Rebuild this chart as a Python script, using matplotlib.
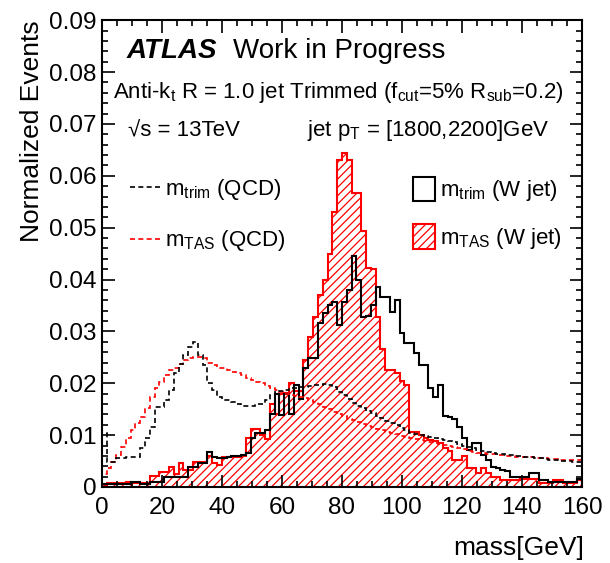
#!/usr/bin/env python
# coding: utf-8
"""
mass distributions for W jets and QCD jets, trimmed vs TAS
"""
import numpy as np
import matplotlib
matplotlib.use("Agg")
import matplotlib.pyplot as plt
from matplotlib.lines import Line2D
from matplotlib.patches import Patch

# 100 bins of 1.6 GeV between 0 and 160
mass_min = 0.0
mass_max = 160.0
n_bins = 100

# m_TAS, W jet (red hatched)
tas_w = [0.0004, 0.0008, 0.0008, 0.0008, 0.0008, 0.0009, 0.0008, 0.0008, 0.0008, 0.0008,
         0.0021, 0.0021, 0.0029, 0.0029, 0.0038, 0.0025, 0.0046, 0.0032, 0.0032, 0.0048,
         0.0048, 0.0048, 0.0060, 0.0046, 0.0042, 0.0058, 0.0058, 0.0058, 0.0058, 0.0060,
         0.0094, 0.0112, 0.0112, 0.0100, 0.0092, 0.0160, 0.0140, 0.0180, 0.0182, 0.0200,
         0.0185, 0.0185, 0.0244, 0.0290, 0.0327, 0.0370, 0.0400, 0.0450, 0.0530, 0.0630,
         0.0645, 0.0630, 0.0567, 0.0567, 0.0494, 0.0423, 0.0420, 0.0327, 0.0266, 0.0225,
         0.0225, 0.0220, 0.0205, 0.0196, 0.0106, 0.0106, 0.0100, 0.0095, 0.0090, 0.0088,
         0.0085, 0.0075, 0.0070, 0.0052, 0.0052, 0.0060, 0.0036, 0.0036, 0.0027, 0.0036,
         0.0027, 0.0019, 0.0019, 0.0013, 0.0013, 0.0013, 0.0013, 0.0016, 0.0016, 0.0016,
         0.0016, 0.0007, 0.0007, 0.0007, 0.0013, 0.0013, 0.0007, 0.0007, 0.0007, 0.0013]

# m_trim, W jet (black solid)
trim_w = [0.0005, 0.0005, 0.0005, 0.0005, 0.0005, 0.0005, 0.0010, 0.0010, 0.0006, 0.0006,
          0.0010, 0.0010, 0.0010, 0.0019, 0.0019, 0.0019, 0.0019, 0.0019, 0.0038, 0.0038,
          0.0046, 0.0046, 0.0067, 0.0058, 0.0056, 0.0056, 0.0058, 0.0060, 0.0060, 0.0062,
          0.0065, 0.0094, 0.0104, 0.0104, 0.0110, 0.0140, 0.0180, 0.0138, 0.0180, 0.0140,
          0.0196, 0.0170, 0.0229, 0.0248, 0.0248, 0.0317, 0.0335, 0.0350, 0.0356, 0.0312,
          0.0356, 0.0380, 0.0446, 0.0400, 0.0327, 0.0330, 0.0350, 0.0385, 0.0366, 0.0366,
          0.0337, 0.0360, 0.0296, 0.0277, 0.0277, 0.0258, 0.0235, 0.0235, 0.0190, 0.0174,
          0.0196, 0.0137, 0.0135, 0.0132, 0.0115, 0.0094, 0.0071, 0.0084, 0.0084, 0.0062,
          0.0052, 0.0039, 0.0036, 0.0033, 0.0030, 0.0019, 0.0019, 0.0019, 0.0019, 0.0027,
          0.0027, 0.0013, 0.0013, 0.0010, 0.0010, 0.0010, 0.0010, 0.0010, 0.0010, 0.0016]

# m_trim, QCD (black dashed)
trim_qcd = [0.0104, 0.0048, 0.0048, 0.0056, 0.0056, 0.0058, 0.0058, 0.0058, 0.0075, 0.0094,
            0.0116, 0.0154, 0.0154, 0.0167, 0.0187, 0.0220, 0.0238, 0.0254, 0.0270, 0.0280,
            0.0254, 0.0235, 0.0200, 0.0187, 0.0173, 0.0167, 0.0167, 0.0163, 0.0160, 0.0156,
            0.0156, 0.0156, 0.0160, 0.0160, 0.0167, 0.0177, 0.0183, 0.0186, 0.0188, 0.0190,
            0.0191, 0.0193, 0.0193, 0.0194, 0.0196, 0.0197, 0.0198, 0.0196, 0.0192, 0.0183,
            0.0178, 0.0170, 0.0162, 0.0157, 0.0152, 0.0147, 0.0142, 0.0137, 0.0133, 0.0128,
            0.0123, 0.0119, 0.0114, 0.0109, 0.0105, 0.0102, 0.0100, 0.0098, 0.0096, 0.0094,
            0.0092, 0.0090, 0.0088, 0.0086, 0.0083, 0.0080, 0.0077, 0.0075, 0.0072, 0.0070,
            0.0068, 0.0066, 0.0064, 0.0063, 0.0062, 0.0061, 0.0060, 0.0059, 0.0058, 0.0057,
            0.0056, 0.0055, 0.0054, 0.0053, 0.0052, 0.0051, 0.0050, 0.0050, 0.0049, 0.0048]

# m_TAS, QCD (red dashed)
tas_qcd = [0.0025, 0.0036, 0.0048, 0.0062, 0.0077, 0.0094, 0.0110, 0.0123, 0.0135, 0.0152,
           0.0173, 0.0190, 0.0202, 0.0215, 0.0225, 0.0230, 0.0238, 0.0244, 0.0248, 0.0250,
           0.0250, 0.0248, 0.0240, 0.0236, 0.0230, 0.0230, 0.0226, 0.0222, 0.0220, 0.0215,
           0.0210, 0.0207, 0.0203, 0.0200, 0.0195, 0.0190, 0.0187, 0.0183, 0.0180, 0.0177,
           0.0175, 0.0173, 0.0172, 0.0168, 0.0164, 0.0160, 0.0155, 0.0150, 0.0145, 0.0140,
           0.0136, 0.0132, 0.0129, 0.0126, 0.0122, 0.0118, 0.0115, 0.0112, 0.0109, 0.0106,
           0.0104, 0.0102, 0.0099, 0.0097, 0.0095, 0.0093, 0.0091, 0.0089, 0.0087, 0.0085,
           0.0083, 0.0081, 0.0079, 0.0077, 0.0075, 0.0073, 0.0070, 0.0068, 0.0066, 0.0065,
           0.0064, 0.0063, 0.0062, 0.0061, 0.0060, 0.0059, 0.0058, 0.0058, 0.0057, 0.0057,
           0.0056, 0.0055, 0.0055, 0.0054, 0.0054, 0.0053, 0.0053, 0.0052, 0.0052, 0.0052]

plt.rcParams['font.family'] = ['Liberation Sans', 'DejaVu Sans']
plt.rcParams['mathtext.fontset'] = 'custom'
plt.rcParams['mathtext.rm'] = 'Liberation Sans'
plt.rcParams['mathtext.it'] = 'Liberation Sans:italic'
plt.rcParams['hatch.linewidth'] = 0.9

edges = np.linspace(mass_min, mass_max, n_bins + 1)

fig = plt.figure(figsize=(6.10, 5.63), dpi=100)
ax = fig.add_axes([0.167, 0.135, 0.787, 0.829])

ax.stairs(tas_w, edges, fill=True, facecolor='none', edgecolor='red',
          hatch='////', linewidth=1.5)
ax.stairs(trim_w, edges, color='black', linewidth=1.5)
ax.stairs(tas_qcd, edges, color='red', linewidth=1.2, linestyle=(0, (3, 2)))
ax.stairs(trim_qcd, edges, color='black', linewidth=1.2, linestyle=(0, (3, 2)))

ax.set_xlim(mass_min, mass_max)
ax.set_ylim(0, 0.09)
ax.set_xticks(np.arange(0, 161, 20))
ax.set_xticks(np.arange(0, 161, 5), minor=True)
ax.set_yticks(np.arange(0, 0.0901, 0.01))
ax.set_yticks(np.arange(0, 0.0901, 0.002), minor=True)
ax.set_yticklabels(['0'] + [f"{v:.2f}" for v in np.arange(0.01, 0.0901, 0.01)])
ax.tick_params(which='both', direction='in', top=True, right=True, labelsize=17.5, width=1.2)
ax.tick_params(which='major', length=9)
ax.tick_params(which='minor', length=4.5)
ax.tick_params(axis='x', pad=7)
ax.tick_params(axis='y', pad=4)
for s in ax.spines.values():
    s.set_linewidth(1.5)

ax.set_ylabel("Normalized Events", fontsize=19, loc='top')
ax.yaxis.set_label_coords(-0.12, 1.0)
ax.set_xlabel("mass[GeV]", fontsize=19, loc='right')
ax.xaxis.set_label_coords(1.005, -0.105)

ax.text(0.052, 0.919, "ATLAS", transform=ax.transAxes, fontsize=20,
        fontweight='bold', fontstyle='italic')
ax.text(0.273, 0.919, "Work in Progress", transform=ax.transAxes, fontsize=20)
ax.text(0.023, 0.833, r"Anti-k$_{\rm t}$ R = 1.0 jet Trimmed (f$_{\rm cut}$=5% R$_{\rm sub}$=0.2)",
        transform=ax.transAxes, fontsize=16)
ax.text(0.054, 0.752, "√s = 13TeV", transform=ax.transAxes, fontsize=16)
ax.text(0.427, 0.752, r"jet p$_{\rm T}$ = [1800,2200]GeV", transform=ax.transAxes, fontsize=16)

qcd_handles = [Line2D([], [], color='black', lw=1.2, linestyle=(0, (3, 2))),
               Line2D([], [], color='red', lw=1.2, linestyle=(0, (3, 2)))]
leg1 = ax.legend(qcd_handles, [r"m$_{\rm trim}$ (QCD)", r"m$_{\rm TAS}$ (QCD)"],
                 loc='upper left', bbox_to_anchor=(0.058, 0.665), frameon=False,
                 fontsize=16, handlelength=1.4, handletextpad=0.2, labelspacing=1.2,
                 borderpad=0, borderaxespad=0)
ax.add_artist(leg1)

w_handles = [Patch(facecolor='none', edgecolor='black', linewidth=1.5),
             Patch(facecolor='none', edgecolor='red', hatch='////', linewidth=1.5)]
ax.legend(w_handles, [r"m$_{\rm trim}$ (W jet)", r"m$_{\rm TAS}$ (W jet)"],
          loc='upper left', bbox_to_anchor=(0.648, 0.665), frameon=False,
          fontsize=16, handlelength=1.0, handleheight=1.3, handletextpad=0.2,
          labelspacing=0.95, borderpad=0, borderaxespad=0)

fig.savefig("out.png", dpi=100)
